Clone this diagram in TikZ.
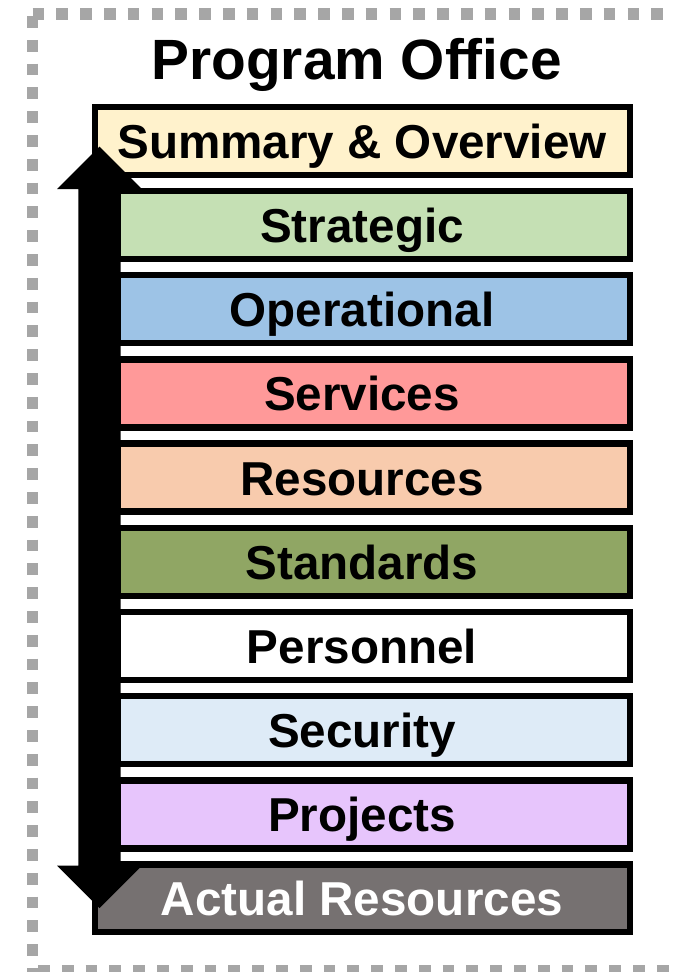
\documentclass[tikz,border=0pt]{standalone}
\usepackage{fontspec}
\setmainfont{Liberation Sans}

\definecolor{dashgray}{HTML}{A6A6A6}
\definecolor{summaryfill}{HTML}{FFF2CC}
\definecolor{strategicfill}{HTML}{C5E0B4}
\definecolor{operationalfill}{HTML}{9DC3E6}
\definecolor{servicesfill}{HTML}{FF9999}
\definecolor{resourcesfill}{HTML}{F8CBAD}
\definecolor{standardsfill}{HTML}{90A664}
\definecolor{personnelfill}{HTML}{FFFFFF}
\definecolor{securityfill}{HTML}{DEEBF7}
\definecolor{projectsfill}{HTML}{E7C5FC}
\definecolor{actualfill}{HTML}{767171}

\begin{document}
\begin{tikzpicture}[x=1pt,y=-1pt,
  layerbox/.style={draw=black, line width=6.4pt, minimum height=68pt, inner sep=0pt, outer sep=0pt},
  widebox/.style={layerbox, minimum width=535pt},
  narrowbox/.style={layerbox, minimum width=512pt},
  layerlabel/.style={anchor=base, inner sep=0pt, font=\fontsize{47.6pt}{50pt}\selectfont\bfseries},
  titlelabel/.style={anchor=base, inner sep=0pt, font=\fontsize{56.8pt}{60pt}\selectfont\bfseries},
  frameline/.style={draw=dashgray, line width=11.7pt, dash pattern=on 11.7pt off 12.1pt},
  bigarrow/.style={fill=black}]

\clip (0,0) rectangle (674,972);

% dashed frame around the office
\draw[frameline] (32.5,14) -- (690,14);
\draw[frameline] (32.5,16) -- (32.5,990);
\draw[frameline] (38,971) -- (690,971);
\draw[frameline] (679.5,14) -- (679.5,990);

% title
\node[titlelabel] (title) at (356.7,79.3) {Program Office};

% stacked layers
\node[widebox, fill=summaryfill] (summary) at (362.5,140.7) {};
\node[narrowbox, fill=strategicfill] (strategic) at (374,225) {};
\node[narrowbox, fill=operationalfill] (operational) at (374,309.2) {};
\node[narrowbox, fill=servicesfill] (services) at (374,393.4) {};
\node[narrowbox, fill=resourcesfill] (resources) at (374,477.6) {};
\node[narrowbox, fill=standardsfill] (standards) at (374,561.8) {};
\node[narrowbox, fill=personnelfill] (personnel) at (374,646) {};
\node[narrowbox, fill=securityfill] (security) at (374,730.2) {};
\node[narrowbox, fill=projectsfill] (projects) at (374,814.4) {};
\node[widebox, fill=actualfill, minimum height=67.5pt] (actual) at (362.5,898.2) {};

% double-headed arrow along the left side
\fill[bigarrow] (99.5,146.5) -- (142,189) -- (120.7,189) -- (120.7,865.5)
  -- (142,865.5) -- (99.5,908) -- (57,865.5) -- (78.3,865.5)
  -- (78.3,189) -- (57,189) -- cycle;

% layer labels
\node[layerlabel] (summary-t) at (362,158.2) {Summary \& Overview};
\node[layerlabel] (strategic-t) at (362,242.5) {Strategic};
\node[layerlabel] (operational-t) at (362,326.7) {Operational};
\node[layerlabel] (services-t) at (362,410.9) {Services};
\node[layerlabel] (resources-t) at (362,495.1) {Resources};
\node[layerlabel] (standards-t) at (362,579.3) {Standards};
\node[layerlabel] (personnel-t) at (362,663.5) {Personnel};
\node[layerlabel] (security-t) at (362,747.7) {Security};
\node[layerlabel] (projects-t) at (362,831.9) {Projects};
\node[layerlabel, text=white] (actual-t) at (362,915.7) {Actual Resources};
\end{tikzpicture}
\end{document}
